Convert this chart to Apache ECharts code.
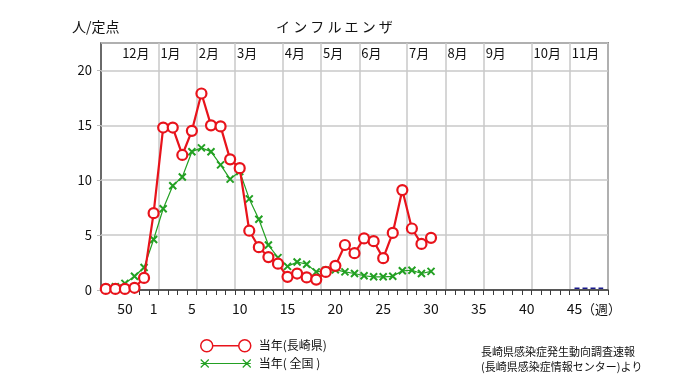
<!DOCTYPE html>
<html><head><meta charset="utf-8">
<script src="https://cdn.jsdelivr.net/npm/echarts@6/dist/echarts.min.js"></script>
<style>html,body{margin:0;padding:0;background:#fff}#c{width:680px;height:382px}</style>
</head><body><div id="c"></div>
<script>
// week categories: prev-year weeks 48-52, then weeks 1-48
var weeks = ['48','49','50','51','52','1','2','3','4','5','6','7','8','9','10','11','12','13','14','15','16','17','18','19','20','21','22','23','24','25','26','27','28','29','30','31','32','33','34','35','36','37','38','39','40','41','42','43','44','45','46','47','48'];
var weekTickLabels = ['50','1','5','10','15','20','25','30','35','40','45'];
var monthNames = ['12月','1月','2月','3月','4月','5月','6月','7月','8月','9月','10月','11月'];
var monthStarts = [2,6,10,14,19,23,27,32,36,40,45,49];   // boundary index of each month label
var monthLines = [6,10,14,19,23,27,32,36,40,45,49];      // boundary index of each vertical grid line
var nagasaki = [0.1,0.1,0.1,0.2,1.1,
  7.0,14.8,14.8,12.3,14.5,17.9,15.0,14.9,11.9,11.1,5.4,3.9,3.0,2.4,1.2,1.5,1.15,0.95,1.65,2.2,4.1,3.35,4.7,4.45,2.9,5.2,9.1,5.6,4.2,4.75,
  null,null,null,null,null,null,null,null,null,null,null,null,null,null,null,null,null,null];
var national = [0.2,0.3,0.6,1.25,2.05,
  4.6,7.4,9.5,10.3,12.6,12.95,12.6,11.4,10.1,10.8,8.3,6.45,4.1,2.95,2.15,2.55,2.35,1.65,1.8,1.85,1.65,1.5,1.3,1.2,1.2,1.25,1.75,1.8,1.5,1.7,
  null,null,null,null,null,null,null,null,null,null,null,null,null,null,null,null,null,null];
var tailSeries = [null,null,null,null,null,
  null,null,null,null,null,null,null,null,null,null,null,null,null,null,null,null,null,null,null,null,null,null,null,null,null,null,null,null,null,null,
  null,null,null,null,null,null,null,null,null,null,null,null,null,null,0.15,0.15,0.15,0.15];

var boundaries = [];
for (var i = 0; i <= weeks.length; i++) {
  var k = monthStarts.indexOf(i);
  boundaries.push(k >= 0 ? monthNames[k] : '');
}

var FONT = '"Noto Sans CJK JP", "Noto Sans", sans-serif';
var RED = '#e8131b', GREEN = '#23a023';

var chart = echarts.init(document.getElementById('c'), null, {renderer: 'canvas'});
chart.setOption({
  animation: false,
  backgroundColor: '#fff',
  textStyle: {fontFamily: FONT, color: '#111'},
  title: [
    {text: '人/定点', left: 67, top: 15, textStyle: {fontSize: 14, fontWeight: 'normal', color: '#111', fontFamily: FONT}},
    {text: 'イ ン フ ル エ ン ザ', left: 271, top: 15, textStyle: {fontSize: 14, fontWeight: 'normal', color: '#111', fontFamily: FONT}},
    {text: '長崎県感染症発生動向調査速報\n(長崎県感染症情報センター)より', left: 476, top: 339,
     textStyle: {fontSize: 11, fontWeight: 'normal', color: '#111', lineHeight: 15, fontFamily: FONT}}
  ],
  grid: {left: 101, right: 72, top: 43, bottom: 92, show: true, borderColor: '#3a3a3a', borderWidth: 1.5, backgroundColor: 'transparent'},
  legend: {
    orient: 'vertical', left: 195, top: 334, itemGap: 5, itemWidth: 50, itemHeight: 12,
    textStyle: {fontSize: 12, color: '#111', fontFamily: FONT, padding: [0, 0, 0, 3]},
    data: [
      {name: '当年(長崎県)',
       icon: 'path://M0,6 A6,6 0 1,1 12,6 A6,6 0 1,1 0,6 Z M12,6 L38,6 M38,6 A6,6 0 1,1 50,6 A6,6 0 1,1 38,6 Z',
       itemStyle: {color: '#fff', borderColor: RED, borderWidth: 1.5}},
      {name: '当年( 全国 )',
       icon: 'path://M0,0 L8,8 M0,8 L8,0 M0,4 L50,4 M42,0 L50,8 M42,8 L50,0',
       itemStyle: {color: GREEN, borderColor: GREEN, borderWidth: 1.2}}
    ]
  },
  xAxis: [
    {
      type: 'category', data: weeks, boundaryGap: true, position: 'bottom',
      name: '（週）', nameLocation: 'end', nameGap: -26, nameMoveOverlap: false,
      nameTextStyle: {fontSize: 13, color: '#111', verticalAlign: 'top', padding: [13, 0, 0, 0], fontFamily: FONT},
      axisLine: {show: true, lineStyle: {color: '#3a3a3a', width: 1.5}},
      axisTick: {show: true, length: 5, lineStyle: {color: '#3a3a3a', width: 1},
                 interval: function (idx) { return idx >= 4; }},
      axisLabel: {show: true, fontSize: 14, color: '#111', margin: 12, fontFamily: FONT,
                  interval: function (idx, val) { return idx >= 2 && weekTickLabels.indexOf(val) >= 0; }},
      splitLine: {show: true, lineStyle: {color: '#c9c9c9', width: 1.5},
                  interval: function (idx) { return monthLines.indexOf(idx) >= 0; }}
    },
    {
      type: 'category', data: boundaries, boundaryGap: false, position: 'top',
      axisLine: {show: false}, axisTick: {show: false}, splitLine: {show: false},
      axisLabel: {show: true, inside: true, interval: 0, align: 'left', margin: 4, fontSize: 13, color: '#111',
                  padding: [0, 0, 0, 2], fontFamily: FONT}
    }
  ],
  yAxis: {
    type: 'value', min: 0, max: 22.5, interval: 5,
    axisLine: {show: false},
    axisTick: {show: true, length: 4, lineStyle: {color: '#bbb'}},
    axisLabel: {fontSize: 13, color: '#111', margin: 9, showMaxLabel: false, fontFamily: FONT},
    splitLine: {show: true, lineStyle: {color: '#c9c9c9', width: 1.5}}
  },
  series: [
    {
      name: '当年( 全国 )', type: 'line', data: national, z: 3,
      showSymbol: true, showAllSymbol: true,
      symbol: 'path://M0,0 L10,10 M0,10 L10,0', symbolSize: 7,
      lineStyle: {color: GREEN, width: 1.2},
      itemStyle: {color: GREEN, borderColor: GREEN, borderWidth: 2}
    },
    {
      name: '当年(長崎県)', type: 'line', data: nagasaki, z: 4,
      showSymbol: true, showAllSymbol: true,
      symbol: 'circle', symbolSize: 10,
      lineStyle: {color: RED, width: 2.2},
      itemStyle: {color: '#fff', borderColor: RED, borderWidth: 2.2}
    },
    {
      name: 'tail', type: 'line', data: tailSeries, z: 2, symbol: 'none',
      lineStyle: {color: '#1a1a8c', width: 1.5, type: [5, 3]}
    }
  ]
});
</script>
</body></html>
